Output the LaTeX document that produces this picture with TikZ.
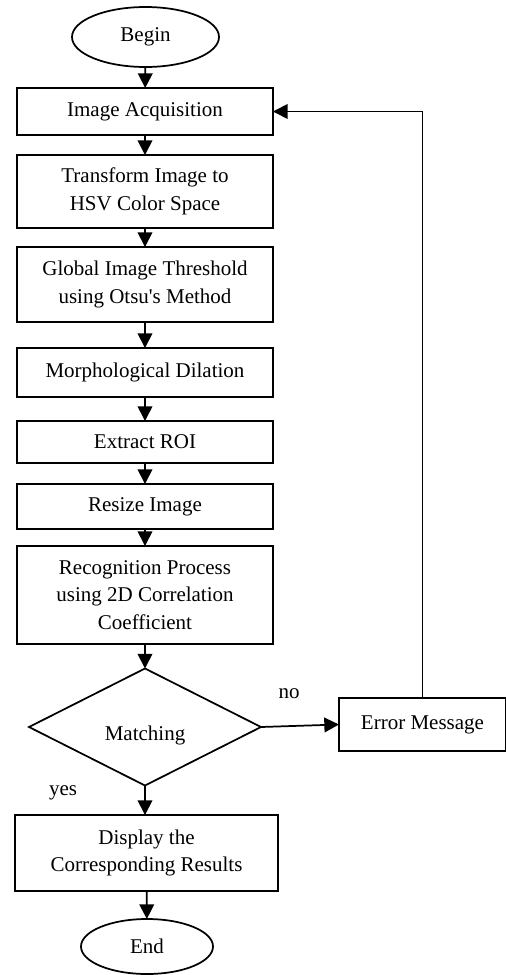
\documentclass[tikz,border=0pt]{standalone}
\usepackage{fontspec}
\setmainfont{Liberation Serif}
\usetikzlibrary{arrows.meta,shapes.geometric}
\begin{document}
\begin{tikzpicture}[x=0.75pt,y=-0.75pt,
  every node/.style={font=\fontsize{15.75}{20.5}\selectfont, inner sep=0pt, outer sep=0pt},
  box/.style={draw, line width=1.3pt, rectangle, align=center, minimum width=192pt},
  oval/.style={draw, line width=1.3pt, ellipse},
  dia/.style={draw, line width=1.3pt, diamond},
  arr/.style={line width=1.3pt, -{Triangle[length=11pt,width=11pt]}}]
\useasboundingbox (0,0) rectangle (506,975);
\node[oval, minimum width=110.25pt, minimum height=45pt] (begin) at (145.5,37) {Begin};
\node[box, minimum height=35.25pt] (acq) at (145,111.5) {Image Acquisition};
\node[box, minimum height=54.75pt] (trans) at (145,191.5) {Transform Image to\\HSV Color Space};
\node[box, minimum height=56.25pt] (glob) at (145,284.5) {Global Image Threshold\\using Otsu\textquotesingle s Method};
\node[box, minimum height=36.75pt] (morph) at (145,372.5) {Morphological Dilation};
\node[box, minimum height=31.5pt] (roi) at (145,442) {Extract ROI};
\node[box, minimum height=33.75pt] (resize) at (145,506.5) {Resize Image};
\node[box, minimum height=73.5pt] (recog) at (145,595) {Recognition Process\\using 2D Correlation\\Coefficient};
\node[dia, minimum width=174pt, minimum height=87.75pt] (match) at (145,727) {};
\node (matchtxt) at (145,735) {Matching};
\node[box, minimum width=125.25pt, minimum height=39.75pt] (err) at (422.5,724.5) {Error Message};
\node[box, minimum width=197.25pt, minimum height=57pt] (disp) at (146.5,853) {Display the\\Corresponding Results};
\node[oval, minimum width=99pt, minimum height=41.25pt] (end) at (147,946.5) {End};
\node (no) at (289,694) {no};
\node (yes) at (63,793) {yes};
\draw[arr] (begin) -- (acq);
\draw[arr] (acq) -- (trans);
\draw[arr] (trans) -- (glob);
\draw[arr] (glob) -- (morph);
\draw[arr] (morph) -- (roi);
\draw[arr] (roi) -- (resize);
\draw[arr] (resize) -- (recog);
\draw[arr] (recog) -- (match);
\draw[arr] (match.east) -- (err.west);
\draw[arr] (err.north) |- (acq.east);
\draw[arr] (match.south) -- (disp.north -| match.south);
\draw[arr] (disp) -- (end);
\end{tikzpicture}
\end{document}
